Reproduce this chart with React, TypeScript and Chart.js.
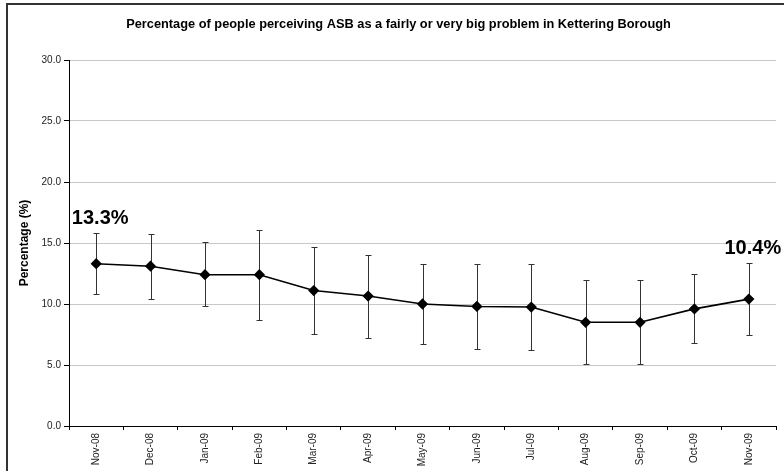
import React, { useEffect, useRef } from "react";
import { Chart, registerables } from "chart.js";

Chart.register(...registerables);

const categories = [
  "Nov-08", "Dec-08", "Jan-09", "Feb-09", "Mar-09", "Apr-09", "May-09",
  "Jun-09", "Jul-09", "Aug-09", "Sep-09", "Oct-09", "Nov-09",
];
const percentages = [13.3, 13.1, 12.4, 12.4, 11.1, 10.65, 10.0, 9.8, 9.75, 8.5, 8.5, 9.6, 10.4];
const upperBounds = [15.85, 15.75, 15.05, 16.1, 14.7, 14.05, 13.3, 13.3, 13.25, 12.0, 11.95, 12.45, 13.4];
const lowerBounds = [10.8, 10.45, 9.8, 8.7, 7.55, 7.2, 6.7, 6.3, 6.2, 5.05, 5.05, 6.8, 7.45];
const labelledIndexes = [0, 12];
const labelTexts = ["13.3%", "10.4%"];
const chartTitle = "Percentage of people perceiving ASB as a fairly or very big problem in Kettering Borough";
const yAxisTitle = "Percentage (%)";

const FONT = "'Liberation Sans', Arial, sans-serif";

const framePlugin = {
  id: "frame",
  beforeDraw(chart: any) {
    const { ctx, width, height } = chart;
    ctx.save();
    ctx.fillStyle = "#ffffff";
    ctx.fillRect(0, 0, width, height);
    ctx.fillStyle = "#333333";
    ctx.fillRect(6, 3, width - 6, 2);
    ctx.fillRect(6, 3, 2, height - 3);
    ctx.fillStyle = "#000000";
    ctx.font = `bold 12.8px ${FONT}`;
    ctx.textAlign = "center";
    ctx.textBaseline = "alphabetic";
    ctx.fillText(chartTitle, 398.5, 28);
    ctx.restore();
  },
};

const errorBarPlugin = {
  id: "errorBars",
  beforeDatasetsDraw(chart: any) {
    const { ctx } = chart;
    const y = chart.scales.y;
    const meta = chart.getDatasetMeta(0);
    ctx.save();
    ctx.strokeStyle = "#333333";
    ctx.lineWidth = 1;
    meta.data.forEach((pt: any, i: number) => {
      const x = Math.round(pt.x) + 0.5;
      const top = Math.round(y.getPixelForValue(upperBounds[i])) + 0.5;
      const bot = Math.round(y.getPixelForValue(lowerBounds[i])) + 0.5;
      ctx.beginPath();
      ctx.moveTo(x, top);
      ctx.lineTo(x, bot);
      ctx.moveTo(x - 3, top);
      ctx.lineTo(x + 3, top);
      ctx.moveTo(x - 3, bot);
      ctx.lineTo(x + 3, bot);
      ctx.stroke();
    });
    ctx.restore();
  },
  afterDatasetsDraw(chart: any) {
    const { ctx } = chart;
    const y = chart.scales.y;
    const meta = chart.getDatasetMeta(0);
    ctx.save();
    ctx.fillStyle = "#000000";
    ctx.font = `bold 20px ${FONT}`;
    ctx.textAlign = "center";
    ctx.textBaseline = "alphabetic";
    labelledIndexes.forEach((idx, k) => {
      const pt = meta.data[idx];
      ctx.fillText(labelTexts[k], pt.x + 4, y.getPixelForValue(upperBounds[idx]) - 9);
    });
    ctx.restore();
  },
};

export default function App() {
  const canvasRef = useRef<HTMLCanvasElement | null>(null);

  useEffect(() => {
    document.body.style.margin = "0";
    const canvas = canvasRef.current;
    if (!canvas) return;
    const chart = new Chart(canvas, {
      type: "line",
      data: {
        labels: categories,
        datasets: [
          {
            data: percentages,
            borderColor: "#000000",
            backgroundColor: "#000000",
            borderWidth: 1.6,
            pointStyle: "rectRot",
            pointRadius: 4.5,
            pointBackgroundColor: "#000000",
            pointBorderColor: "#000000",
            tension: 0,
            fill: false,
          },
        ],
      },
      options: {
        responsive: false,
        animation: false,
        devicePixelRatio: 1,
        layout: { padding: { left: 13, top: 60, right: 8, bottom: 0 } },
        plugins: {
          legend: { display: false },
          title: { display: false },
          tooltip: { enabled: false },
        },
        scales: {
          x: {
            type: "category",
            offset: true,
            grid: {
              offset: true,
              drawOnChartArea: false,
              drawTicks: true,
              tickLength: 4,
              tickColor: "#000000",
            },
            border: { display: true, color: "#000000", width: 1 },
            ticks: {
              minRotation: 90,
              maxRotation: 90,
              autoSkip: false,
              padding: 3,
              color: "#222222",
              font: { family: FONT, size: 10 },
            },
            afterFit(scale: any) {
              scale.height = 45;
            },
          },
          y: {
            min: 0,
            max: 30,
            ticks: {
              stepSize: 5,
              padding: 3,
              color: "#222222",
              font: { family: FONT, size: 10 },
              callback: (v: any) => Number(v).toFixed(1),
            },
            grid: {
              color: "#c8c8c8",
              lineWidth: 1,
              drawTicks: true,
              tickLength: 5,
              tickColor: "#000000",
            },
            border: { display: true, color: "#000000", width: 1 },
            title: {
              display: true,
              text: yAxisTitle,
              color: "#000000",
              font: { family: FONT, size: 12, weight: "bold" },
              padding: { top: 4, bottom: 0 },
            },
            afterFit(scale: any) {
              scale.width = 56;
            },
          },
        },
      },
      plugins: [framePlugin, errorBarPlugin],
    });
    return () => chart.destroy();
  }, []);

  return (
    <div style={{ position: "absolute", left: 0, top: 0, width: 784, height: 471 }}>
      <canvas ref={canvasRef} width={784} height={471} />
    </div>
  );
}
